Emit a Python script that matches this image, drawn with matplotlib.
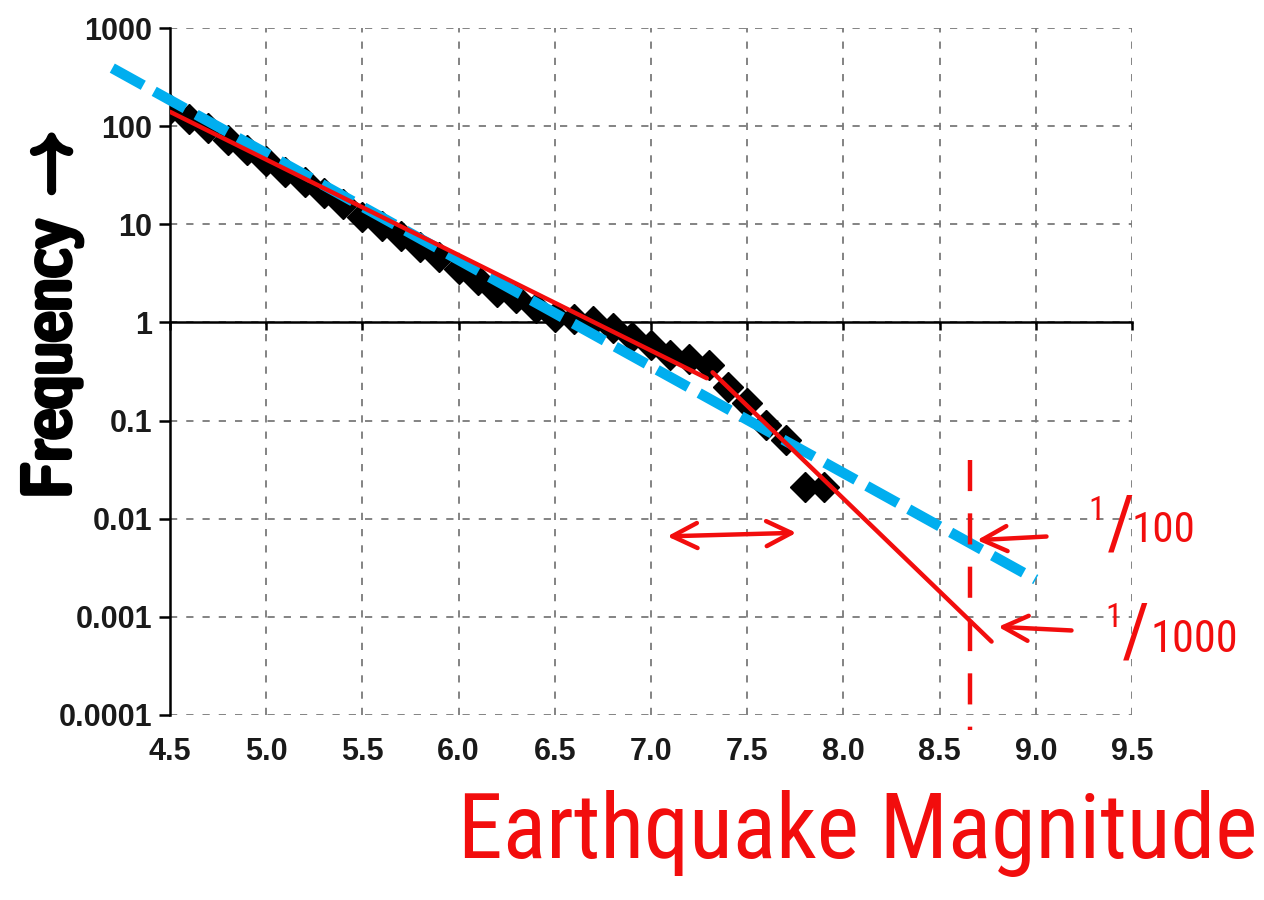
import matplotlib
matplotlib.use("Agg")
import matplotlib.pyplot as plt
import matplotlib.patheffects as pe
from matplotlib import font_manager

# earthquake magnitude vs annual frequency
mags = [4.5, 4.6, 4.7, 4.8, 4.9, 5.0, 5.1, 5.2, 5.3, 5.4, 5.5, 5.6, 5.7, 5.8,
        5.9, 6.0, 6.1, 6.2, 6.3, 6.4, 6.5, 6.6, 6.7, 6.8, 6.9, 7.0, 7.1, 7.2,
        7.3, 7.4, 7.5, 7.6, 7.7, 7.8, 7.9]
freq = [150, 118, 95, 72, 57, 44, 34, 27, 21, 16, 12, 9.6, 7.6, 5.9,
        4.6, 3.5, 2.7, 2.05, 1.78, 1.4, 1.14, 1.08, 1.04, 0.88, 0.71, 0.59, 0.47, 0.42,
        0.37, 0.22, 0.15, 0.091, 0.064, 0.021, 0.021]

# blue dashed straight-line fit
fit_x = [4.2, 9.0]
fit_y = [390, 0.0024]

# red hand-drawn lines (two segments)
red1_x = [4.5, 7.29]
red1_y = [140, 0.27]
red2_x = [7.32, 8.77]
red2_y = [0.31, 0.00056]

# red marks
span_x = [7.07, 7.77]
span_y = [0.0066, 0.0072]
mark_x = 8.66
mark_y = [0.04, 0.00007]
arrow100_tail = (9.07, 10 ** -2.18)
arrow100_tip = (8.68, 10 ** -2.22)
arrow1000_tail = (9.20, 10 ** -3.14)
arrow1000_tip = (8.79, 10 ** -3.10)

xticks = [4.5, 5.0, 5.5, 6.0, 6.5, 7.0, 7.5, 8.0, 8.5, 9.0, 9.5]
xlabels = ["4.5", "5.0", "5.5", "6.0", "6.5", "7.0", "7.5", "8.0", "8.5", "9.0", "9.5"]
yticks = [0.0001, 0.001, 0.01, 0.1, 1, 10, 100, 1000]
ylabels = ["0.0001", "0.001", "0.01", "0.1", "1", "10", "100", "1000"]

RED = "#f20d0d"
BLUE = "#00aeef"


def narrow_font(bold=False):
    # look for a narrow/condensed face to mimic the handwriting
    best = None
    for f in font_manager.fontManager.ttflist:
        nm = f.name
        narrow = "Narrow" in nm or f.stretch in ("condensed", "semi-condensed")
        if not narrow or "Mono" in nm or "Serif" in nm:
            continue
        is_bold = f.weight in ("bold", 700) or (isinstance(f.weight, int) and f.weight >= 600)
        if is_bold != bold or f.style != "normal":
            continue
        best = f.fname
        if "Liberation" in nm:
            break
    if best:
        return font_manager.FontProperties(fname=best)
    return font_manager.FontProperties(family="DejaVu Sans",
                                       weight="bold" if bold else "normal")


W, H = 1264, 900
fig = plt.figure(figsize=(12.64, 9), dpi=100)
ax = fig.add_axes([170 / W, 1 - 715 / H, (1132 - 170) / W, (715 - 28) / H])


def px(x, y):
    return x / W, 1 - y / H


ax.set_yscale("log")
ax.set_xlim(4.5, 9.5)
ax.set_ylim(1e-4, 1e3)

ax.grid(True, color="#7a7a7a", ls=(0, (4, 5)), lw=1.3)
ax.set_axisbelow(True)
for s in ["top", "right"]:
    ax.spines[s].set_visible(False)
ax.spines["bottom"].set_position(("data", 1))
ax.spines["bottom"].set_linewidth(1.8)
ax.spines["left"].set_linewidth(1.8)

ax.set_xticks(xticks)
ax.tick_params(axis="x", direction="out", length=6, width=1.8, labelbottom=False)
ax.set_yticks(yticks)
ax.set_yticklabels(ylabels)
ax.minorticks_off()
ax.tick_params(axis="y", direction="out", length=8, width=1.8, pad=5,
               labelsize=22, labelcolor="#1a1a1a")
for t in ax.get_yticklabels():
    t.set_fontfamily("Liberation Sans")
    t.set_fontweight("bold")

sec = ax.secondary_xaxis("bottom")
sec.set_xticks(xticks)
sec.set_xticklabels(xlabels)
sec.spines["bottom"].set_visible(False)
sec.tick_params(length=0, pad=16, labelsize=22, labelcolor="#1a1a1a")
for t in sec.get_xticklabels():
    t.set_fontfamily("Liberation Sans")
    t.set_fontweight("bold")

# data points
ax.plot(mags, freq, ls="none", marker="D", ms=15, color="black", zorder=3)

# straight-line fit
ax.plot(fit_x, fit_y, color=BLUE, lw=7.5, dashes=(3.4, 1.2),
        solid_capstyle="butt", dash_capstyle="butt", clip_on=False, zorder=4)

# red hand-drawn segments
ax.plot(red1_x, red1_y, color=RED, lw=3.2, solid_capstyle="round", zorder=5)
ax.plot(red2_x, red2_y, color=RED, lw=3.2, solid_capstyle="round", zorder=5)

# vertical red dashed marker
ax.plot([mark_x, mark_x], mark_y, color=RED, lw=3.2, dashes=(7, 5),
        clip_on=False, zorder=5)

# arrows
head = "head_length=1.8,head_width=0.9"
ax.annotate("", xy=(span_x[1], span_y[1]), xytext=(span_x[0], span_y[0]),
            arrowprops=dict(arrowstyle="<->," + head, color=RED, lw=3.2,
                            capstyle="round"), zorder=6)
ax.annotate("", xy=arrow100_tip, xytext=arrow100_tail, annotation_clip=False,
            arrowprops=dict(arrowstyle="->," + head, color=RED, lw=3.2), zorder=6)
ax.annotate("", xy=arrow1000_tip, xytext=arrow1000_tail, annotation_clip=False,
            arrowprops=dict(arrowstyle="->," + head, color=RED, lw=3.2), zorder=6)

hand = narrow_font(bold=False)
hand_bold = narrow_font(bold=True)

# 1/100 and 1/1000 handwritten labels
fig.text(*px(1097, 520), "1", color=RED, fontproperties=hand, fontsize=24,
         ha="center", va="baseline")
fig.text(*px(1121, 548), "/", color=RED, fontproperties=hand, fontsize=54,
         ha="center", va="baseline")
fig.text(*px(1132, 542), "100", color=RED, fontproperties=hand, fontsize=31,
         ha="left", va="baseline")
fig.text(*px(1114, 627), "1", color=RED, fontproperties=hand, fontsize=24,
         ha="center", va="baseline")
fig.text(*px(1136, 655), "/", color=RED, fontproperties=hand, fontsize=54,
         ha="center", va="baseline")
fig.text(*px(1150, 652), "1000", color=RED, fontproperties=hand, fontsize=32,
         ha="left", va="baseline")

# axis titles
fig.text(*px(858, 858), "Earthquake Magnitude", color=RED, fontproperties=hand,
         fontsize=65, ha="center", va="baseline")
fig.text(*px(52, 315), "Frequency \u2192", color="black", fontproperties=hand_bold,
         fontsize=50, rotation=90, ha="center", va="center",
         path_effects=[pe.withStroke(linewidth=3, foreground="black")])

fig.savefig("out.png", dpi=100)
